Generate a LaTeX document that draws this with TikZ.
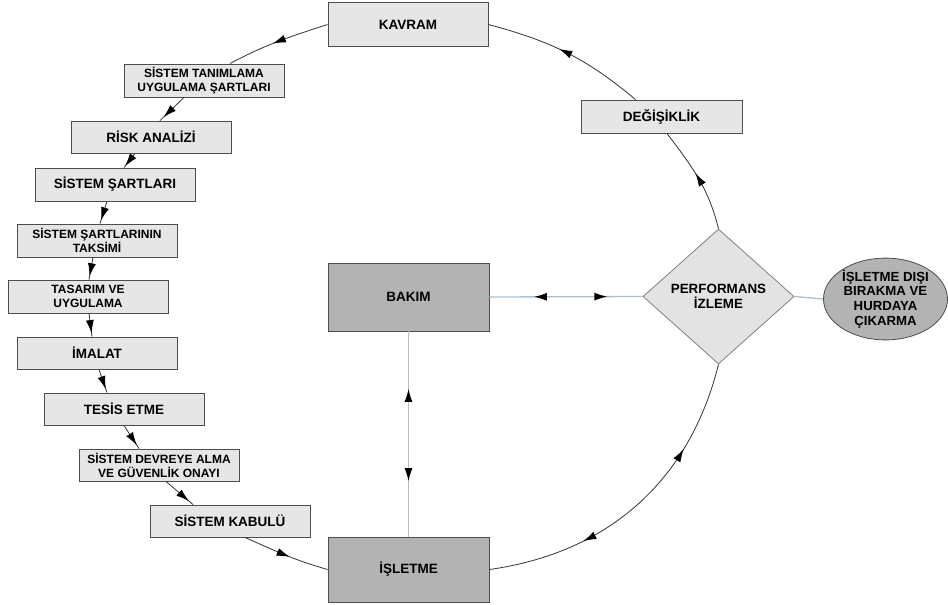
\documentclass[tikz,border=0pt]{standalone}
\usepackage{fontspec}
\setmainfont{Liberation Sans}
\usetikzlibrary{arrows.meta,decorations.markings,shapes.geometric,calc}
\definecolor{lightfill}{HTML}{E6E6E6}
\definecolor{darkfill}{HTML}{B3B3B3}
\definecolor{bordercol}{HTML}{4D4D4D}
\definecolor{diafill}{HTML}{E3E3E3}
\definecolor{diaborder}{HTML}{808080}
\definecolor{linecol}{HTML}{333333}
\definecolor{bluecol}{HTML}{A9C2D3}
\begin{document}
\begin{tikzpicture}[x=1pt,y=-1pt,
  >={Latex[length=13pt,width=8pt]},
  box/.style={draw=bordercol,line width=0.9pt,fill=lightfill,minimum width=160pt,
    minimum height=32pt,inner sep=0pt,align=center,
    font=\fontsize{13.5}{14}\selectfont\bfseries},
  twoline/.style={font=\fontsize{12}{14}\selectfont\bfseries},
  darkbox/.style={box,fill=darkfill,minimum width=161pt},
  flow/.style={draw=linecol,line width=0.8pt},
  blueline/.style={draw=bluecol,line width=1.3pt},
  mid/.style={postaction={decorate},decoration={markings,
    mark=at position #1 with {\arrow[black]{>}}}},
  twoway/.style 2 args={postaction={decorate},decoration={markings,
    mark=at position #1 with {\arrowreversed[black]{>}},
    mark=at position #2 with {\arrow[black]{>}}}}]
\useasboundingbox (0,0) rectangle (948,605);

% nodes
\node[box,minimum height=44pt] (kavram) at (408,24.5) {KAVRAM};
\node[box,minimum width=161pt,minimum height=33pt] (deg) at (661.5,116.5) {DEĞİŞİKLİK};
\node[box,twoline,minimum height=33pt] (tanim) at (204,80.5) {SİSTEM TANIMLAMA\\UYGULAMA ŞARTLARI};
\node[box] (risk) at (151,137) {RİSK ANALİZİ};
\node[box,minimum height=33pt] (sart) at (115,184.5) {SİSTEM ŞARTLARI};
\node[box,twoline,minimum height=33pt] (taksim) at (97,240.5) {SİSTEM ŞARTLARININ\\TAKSİMİ};
\node[box,twoline,minimum height=33pt] (tasarim) at (88,296.5) {TASARIM VE\\UYGULAMA};
\node[box] (imalat) at (97,353) {İMALAT};
\node[box] (tesis) at (124,409) {TESİS ETME};
\node[box,twoline] (devreye) at (159,465) {SİSTEM DEVREYE ALMA\\VE GÜVENLİK ONAYI};
\node[box] (kabul) at (230,521) {SİSTEM KABULÜ};
\node[darkbox,minimum height=68pt] (bakim) at (408.5,297) {BAKIM};
\node[darkbox,minimum height=65pt] (isletme) at (408.5,569.5) {İŞLETME};
\node[diamond,draw=diaborder,line width=0.8pt,fill=diafill,minimum width=151pt,
  minimum height=135pt,inner sep=0pt,align=center,
  font=\fontsize{13.4}{14.5}\selectfont\bfseries] (perf) at (718.5,296.5) {PERFORMANS\\İZLEME};
\node[ellipse,draw=bordercol,line width=0.8pt,fill=darkfill,minimum width=124pt,
  minimum height=76pt,inner sep=0pt,align=center,
  font=\fontsize{13.2}{14.6}\selectfont\bfseries] (ell) at (885.5,299) {İŞLETME DIŞI\\BIRAKMA VE\\HURDAYA\\ÇIKARMA};

% circle connectors
\draw[flow,mid=0.55] ($(deg.north)+(-26,0)$) to[out=140,in=-15] (kavram.east);
\draw[flow,mid=0.55] (perf.north) to[out=104,in=-53] ($(deg.south)+(5.5,0)$);
\draw[flow,mid=0.55] (kavram.west) to[out=198,in=28] ($(tanim.north)+(26,0)$);
\draw[flow,mid=0.55] ($(kabul.south)+(15,0)$) to[out=-24,in=164] (isletme.west);
\draw[flow,twoway={0.3}{0.72}] (isletme.east) to[out=8,in=-104] (perf.south);

% chain connectors
\draw[flow,mid=0.85] ($(tanim.south)+(-20,0)$) -- ($(risk.north)+(9,0)$);
\draw[flow,mid=0.9] ($(risk.south)+(-16,0)$) -- ($(sart.north)+(9,0)$);
\draw[flow,mid=0.85] ($(sart.south)+(-8,0)$) -- ($(taksim.north)+(3,0)$);
\draw[flow,mid=0.85] ($(taksim.south)+(-4,0)$) -- ($(tasarim.north)+(1,0)$);
\draw[flow,mid=0.85] ($(tasarim.south)+(1,0)$) -- ($(imalat.north)+(-5,0)$);
\draw[flow,mid=0.85] ($(imalat.south)+(2,0)$) -- ($(tesis.north)+(-17,0)$);
\draw[flow,mid=0.85] ($(tesis.south)+(0,0)$) -- ($(devreye.north)+(-20,0)$);
\draw[flow,mid=0.85] ($(devreye.south)+(7,0)$) -- ($(kabul.north)+(-37,0)$);

% blue connectors
\draw[blueline,twoway={0.29}{0.77}] (bakim.east) -- (perf.west);
\draw[blueline,twoway={0.28}{0.73}] (bakim.south) -- (isletme.north);
\draw[blueline] (perf.east) -- (ell.west);
\end{tikzpicture}
\end{document}
